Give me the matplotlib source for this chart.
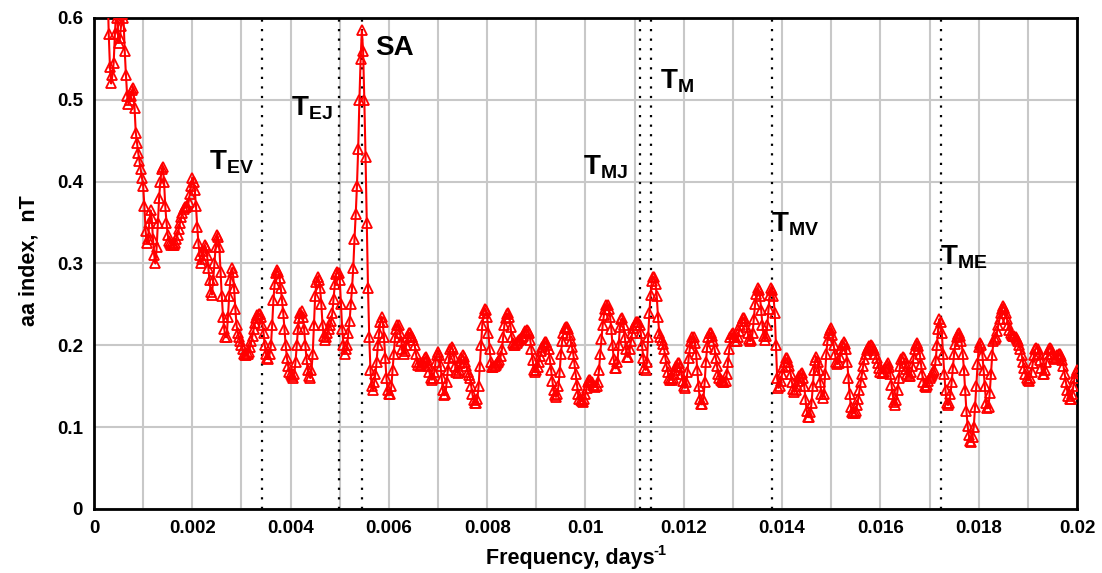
import numpy as np
import matplotlib
matplotlib.use("Agg")
import matplotlib.pyplot as plt
from matplotlib.ticker import MultipleLocator

plt.rcParams['font.family'] = ['Liberation Sans', 'DejaVu Sans']
plt.rcParams['mathtext.fontset'] = 'custom'
plt.rcParams['mathtext.rm'] = 'Liberation Sans:bold'
plt.rcParams['mathtext.bf'] = 'Liberation Sans:bold'
plt.rcParams['mathtext.it'] = 'Liberation Sans:bold'

# Frequency grid (days^-1): sampled every 0.000025 starting at 0.0002
freq_start = 0.0002
freq_step = 0.000025

# aa-index spectrum amplitude (nT), one list per 0.001 band
band_00 = [0.95, 0.82, 0.70, 0.64, 0.58, 0.54, 0.52, 0.53, 0.545, 0.58, 0.61, 0.60, 0.57, 0.575, 0.59, 0.605,
           0.60, 0.56, 0.53, 0.505, 0.495, 0.50, 0.505, 0.512, 0.515, 0.49, 0.46, 0.447, 0.435, 0.425, 0.415, 0.405]
band_01 = [0.395, 0.37, 0.34, 0.325, 0.33, 0.35, 0.365, 0.355, 0.33, 0.31, 0.30, 0.32, 0.35, 0.38, 0.40, 0.415, 0.418, 0.40, 0.37, 0.35,
           0.335, 0.328, 0.325, 0.323, 0.323, 0.323, 0.325, 0.33, 0.335, 0.342, 0.35, 0.357, 0.362, 0.366, 0.369, 0.369, 0.37, 0.375, 0.385, 0.395]
band_02 = [0.405, 0.40, 0.39, 0.37, 0.345, 0.325, 0.31, 0.30, 0.305, 0.315, 0.322, 0.32, 0.31, 0.295, 0.28, 0.265, 0.262, 0.28, 0.30, 0.32,
           0.335, 0.332, 0.32, 0.29, 0.26, 0.235, 0.22, 0.21, 0.21, 0.235, 0.26, 0.28, 0.294, 0.29, 0.27, 0.245, 0.225, 0.215, 0.21, 0.205]
band_03 = [0.20, 0.195, 0.19, 0.188, 0.188, 0.19, 0.192, 0.198, 0.205, 0.212, 0.22, 0.227, 0.233, 0.237, 0.238, 0.238, 0.235, 0.225, 0.215, 0.20,
           0.19, 0.185, 0.183, 0.19, 0.20, 0.225, 0.255, 0.275, 0.288, 0.292, 0.29, 0.282, 0.27, 0.255, 0.24, 0.22, 0.20, 0.185, 0.175, 0.168]
band_04 = [0.165, 0.162, 0.16, 0.165, 0.18, 0.20, 0.22, 0.233, 0.24, 0.242, 0.235, 0.22, 0.20, 0.183, 0.17, 0.163, 0.16, 0.17, 0.19, 0.225,
           0.26, 0.277, 0.284, 0.28, 0.27, 0.25, 0.225, 0.212, 0.207, 0.21, 0.215, 0.22, 0.225, 0.23, 0.24, 0.257, 0.275, 0.287, 0.29, 0.288]
band_05 = [0.28, 0.25, 0.22, 0.20, 0.19, 0.195, 0.20, 0.215, 0.23, 0.25, 0.27, 0.295, 0.33, 0.36, 0.395, 0.44, 0.50, 0.55, 0.585, 0.56,
           0.50, 0.43, 0.35, 0.27, 0.21, 0.17, 0.15, 0.145, 0.155, 0.165, 0.18, 0.20, 0.215, 0.228, 0.235, 0.228, 0.21, 0.185, 0.16, 0.145]
band_06 = [0.14, 0.14, 0.15, 0.17, 0.19, 0.21, 0.22, 0.225, 0.225, 0.215, 0.205, 0.195, 0.19, 0.193, 0.20, 0.21, 0.215, 0.215, 0.212, 0.21,
           0.207, 0.20, 0.19, 0.18, 0.176, 0.175, 0.176, 0.178, 0.18, 0.184, 0.186, 0.182, 0.175, 0.167, 0.16, 0.158, 0.16, 0.168, 0.18, 0.188]
band_07 = [0.192, 0.188, 0.175, 0.16, 0.145, 0.139, 0.14, 0.155, 0.17, 0.185, 0.195, 0.198, 0.195, 0.186, 0.175, 0.168, 0.166, 0.17, 0.178, 0.185,
           0.188, 0.186, 0.18, 0.175, 0.168, 0.164, 0.16, 0.15, 0.14, 0.133, 0.13, 0.13, 0.135, 0.15, 0.175, 0.20, 0.225, 0.24, 0.245, 0.243]
band_08 = [0.235, 0.215, 0.195, 0.18, 0.174, 0.173, 0.175, 0.176, 0.178, 0.18, 0.182, 0.187, 0.195, 0.21, 0.225, 0.234, 0.238, 0.239, 0.235, 0.222,
           0.21, 0.203, 0.20, 0.201, 0.203, 0.205, 0.207, 0.208, 0.21, 0.212, 0.215, 0.218, 0.219, 0.218, 0.215, 0.207, 0.195, 0.182, 0.17, 0.167]
band_09 = [0.17, 0.174, 0.18, 0.187, 0.193, 0.198, 0.202, 0.204, 0.204, 0.201, 0.195, 0.183, 0.17, 0.157, 0.145, 0.139, 0.137, 0.14, 0.15, 0.168,
           0.19, 0.205, 0.215, 0.221, 0.223, 0.222, 0.22, 0.213, 0.205, 0.198, 0.19, 0.178, 0.165, 0.152, 0.14, 0.135, 0.133, 0.132, 0.131, 0.134]
band_10 = [0.14, 0.148, 0.155, 0.158, 0.158, 0.155, 0.152, 0.15, 0.149, 0.15, 0.155, 0.17, 0.19, 0.208, 0.225, 0.237, 0.245, 0.249, 0.249, 0.245,
           0.235, 0.22, 0.20, 0.183, 0.172, 0.172, 0.18, 0.20, 0.222, 0.232, 0.233, 0.225, 0.21, 0.195, 0.186, 0.186, 0.195, 0.205, 0.215, 0.221]
band_11 = [0.225, 0.228, 0.229, 0.228, 0.225, 0.215, 0.20, 0.185, 0.172, 0.17, 0.18, 0.21, 0.24, 0.262, 0.278, 0.284, 0.283, 0.275, 0.26, 0.235,
           0.215, 0.21, 0.207, 0.202, 0.195, 0.185, 0.175, 0.167, 0.16, 0.158, 0.158, 0.16, 0.165, 0.17, 0.175, 0.178, 0.178, 0.173, 0.165, 0.157]
band_12 = [0.15, 0.148, 0.155, 0.168, 0.185, 0.197, 0.205, 0.21, 0.21, 0.203, 0.19, 0.17, 0.15, 0.135, 0.128, 0.128, 0.135, 0.155, 0.18, 0.198,
           0.21, 0.215, 0.215, 0.211, 0.205, 0.196, 0.185, 0.175, 0.165, 0.16, 0.158, 0.156, 0.155, 0.155, 0.157, 0.165, 0.18, 0.195, 0.21, 0.214]
band_13 = [0.215, 0.21, 0.205, 0.205, 0.21, 0.218, 0.225, 0.23, 0.233, 0.233, 0.23, 0.223, 0.215, 0.208, 0.205, 0.207, 0.215, 0.232, 0.25, 0.263,
           0.27, 0.268, 0.26, 0.243, 0.225, 0.212, 0.207, 0.212, 0.225, 0.245, 0.262, 0.27, 0.268, 0.26, 0.24, 0.20, 0.16, 0.148, 0.15, 0.157]
band_14 = [0.165, 0.173, 0.18, 0.184, 0.184, 0.18, 0.175, 0.165, 0.155, 0.147, 0.143, 0.145, 0.15, 0.157, 0.162, 0.165, 0.166, 0.16, 0.15, 0.135,
           0.12, 0.113, 0.112, 0.118, 0.13, 0.15, 0.17, 0.182, 0.186, 0.18, 0.17, 0.155, 0.14, 0.136, 0.14, 0.165, 0.19, 0.207, 0.215, 0.219]
band_15 = [0.221, 0.213, 0.20, 0.19, 0.18, 0.177, 0.178, 0.186, 0.195, 0.201, 0.204, 0.202, 0.195, 0.18, 0.16, 0.14, 0.125, 0.118, 0.117, 0.117,
           0.12, 0.127, 0.135, 0.145, 0.155, 0.165, 0.175, 0.183, 0.19, 0.194, 0.197, 0.199, 0.20, 0.199, 0.197, 0.194, 0.19, 0.184, 0.178, 0.172]
band_16 = [0.168, 0.166, 0.166, 0.168, 0.172, 0.176, 0.178, 0.174, 0.165, 0.152, 0.14, 0.131, 0.127, 0.133, 0.145, 0.16, 0.175, 0.183, 0.186, 0.184,
           0.178, 0.171, 0.165, 0.162, 0.162, 0.167, 0.175, 0.185, 0.195, 0.201, 0.203, 0.199, 0.19, 0.177, 0.165, 0.155, 0.15, 0.149, 0.152, 0.156]
band_17 = [0.16, 0.162, 0.165, 0.167, 0.17, 0.182, 0.20, 0.22, 0.232, 0.228, 0.215, 0.19, 0.165, 0.145, 0.13, 0.127, 0.13, 0.14, 0.155, 0.172,
           0.19, 0.202, 0.21, 0.214, 0.215, 0.212, 0.205, 0.19, 0.17, 0.145, 0.12, 0.102, 0.09, 0.083, 0.082, 0.088, 0.10, 0.125, 0.15, 0.177]
band_18 = [0.198, 0.203, 0.20, 0.188, 0.17, 0.15, 0.13, 0.123, 0.125, 0.142, 0.165, 0.188, 0.205, 0.208, 0.21, 0.217, 0.225, 0.232, 0.24, 0.245,
           0.248, 0.246, 0.24, 0.232, 0.225, 0.219, 0.215, 0.213, 0.212, 0.211, 0.21, 0.208, 0.205, 0.20, 0.195, 0.188, 0.18, 0.172, 0.165, 0.16]
band_19 = [0.158, 0.157, 0.16, 0.168, 0.178, 0.188, 0.195, 0.197, 0.196, 0.19, 0.182, 0.172, 0.165, 0.165, 0.17, 0.18, 0.19, 0.195, 0.197, 0.195,
           0.19, 0.186, 0.183, 0.185, 0.188, 0.19, 0.19, 0.187, 0.182, 0.175, 0.165, 0.155, 0.145, 0.138, 0.135, 0.135, 0.14, 0.15, 0.16, 0.166, 0.17]

bands = [band_00, band_01, band_02, band_03, band_04, band_05, band_06, band_07, band_08, band_09,
         band_10, band_11, band_12, band_13, band_14, band_15, band_16, band_17, band_18, band_19]
expected = [32] + [40] * 18 + [41]
for i, (b, n) in enumerate(zip(bands, expected)):
    assert len(b) == n, (i, len(b))
aa_power = [v for b in bands for v in b]
freq = freq_start + freq_step * np.arange(len(aa_power))

# Marked periodicities (frequency, label)
line_freqs = [0.00341, 0.00499, 0.00545, 0.01111, 0.01134, 0.0138, 0.01723]
label_texts = [r'$\mathrm{T_{EV}}$', r'$\mathrm{T_{EJ}}$', 'SA', r'$\mathrm{T_{MJ}}$',
               r'$\mathrm{T_M}$', r'$\mathrm{T_{MV}}$', r'$\mathrm{T_{ME}}$']
label_x = [0.00234, 0.00400, 0.00572, 0.00995, 0.01152, 0.01377, 0.01721]
label_y = [0.441, 0.506, 0.579, 0.435, 0.539, 0.365, 0.325]

x_ticks = [0, 0.002, 0.004, 0.006, 0.008, 0.01, 0.012, 0.014, 0.016, 0.018, 0.02]
x_tick_labels = ['0', '0.002', '0.004', '0.006', '0.008', '0.01', '0.012', '0.014', '0.016', '0.018', '0.02']
y_ticks = [0, 0.1, 0.2, 0.3, 0.4, 0.5, 0.6]
y_tick_labels = ['0', '0.1', '0.2', '0.3', '0.4', '0.5', '0.6']

fig = plt.figure(figsize=(11.02, 5.73), dpi=100)
ax = fig.add_axes([0.0853, 0.1117, 0.8920, 0.8569])

ax.set_xlim(0, 0.02)
ax.set_ylim(0, 0.6)
ax.set_xticks(x_ticks)
ax.set_xticklabels(x_tick_labels)
ax.set_yticks(y_ticks)
ax.set_yticklabels(y_tick_labels)
ax.xaxis.set_minor_locator(MultipleLocator(0.001))
ax.grid(True, which='both', color='#c8c8c8', linewidth=1.5, zorder=0)
ax.set_axisbelow(True)
ax.tick_params(which='both', length=0, pad=8, labelsize=13.5)
for lab in ax.get_xticklabels() + ax.get_yticklabels():
    lab.set_fontweight('bold')
for s in ax.spines.values():
    s.set_linewidth(2)
    s.set_color('black')

for f in line_freqs:
    ax.axvline(f, color='black', linewidth=1.6, linestyle=(0, (1, 3.3)), zorder=2)

ax.plot(freq, aa_power, color='#ff0000', linewidth=1.5, marker='^', markersize=6.5,
        markerfacecolor='none', markeredgecolor='#ff0000', markeredgewidth=1.3, zorder=3)

for t, x, y in zip(label_texts, label_x, label_y):
    ax.text(x, y, t, fontsize=20, fontweight='bold', ha='left', va='top', zorder=4)

xl = ax.set_xlabel('Frequency, days', fontsize=15.5, fontweight='bold')
ax.xaxis.set_label_coords(0.485, -0.080, transform=ax.transAxes)
xl.set_va('top')
ax.set_ylabel('aa index,  nT', fontsize=15.5, fontweight='bold')
ax.yaxis.set_label_coords(-0.055, 0.505)

fig.canvas.draw()
bb = xl.get_window_extent(renderer=fig.canvas.get_renderer())
W, H = fig.get_size_inches() * fig.dpi
fig.text((bb.x1 - 2) / W, (bb.y1 + 4) / H, '-1', fontsize=10.5, fontweight='bold', ha='left', va='top')

fig.savefig('out.png', dpi=100)
